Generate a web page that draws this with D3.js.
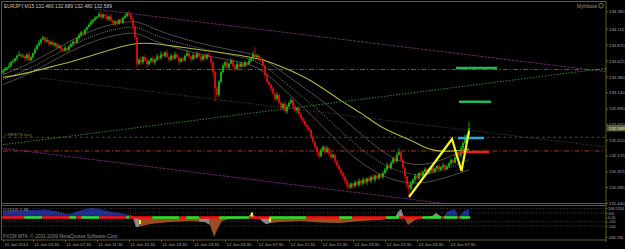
<!DOCTYPE html>
<html>
<head>
    <title>EURJPY,M15</title>
    <meta charset="utf-8">
    <style type="text/css">
        body { margin: 0; background: #000; }
        svg { display: block; }
        text { font-family: "Liberation Sans", Arial, sans-serif; }
        .axis text { fill: #a8a8a8; font-size: 4.3px; }
        .axis.cci text { font-size: 3.8px; }
    </style>
</head>
<body>
<script type="text/javascript" src="https://cdn.jsdelivr.net/npm/d3@7"></script>
<script type="text/javascript">
    /*=========DATA=========*/
    // M15 candles, open = previous close
    var firstOpen = 133.44;
    var closes = [
        133.47, 133.50, 133.52, 133.55, 133.60, 133.62, 133.66, 133.70, 133.72, 133.69,
        133.70, 133.66, 133.72, 133.63, 133.68, 133.74, 133.80, 133.86, 133.90, 133.95,
        133.98, 133.92, 133.94, 133.88, 133.91, 133.86, 133.89, 133.83, 133.85, 133.80,
        133.78, 133.82, 133.79, 133.84, 133.88, 133.92, 133.90, 133.97, 134.02, 134.06,
        134.04, 134.10, 134.14, 134.18, 134.22, 134.25, 134.28, 134.30, 134.34, 134.29,
        134.33, 134.31, 134.26, 134.30, 134.24, 134.20, 134.23, 134.19, 134.25, 134.22,
        134.28, 134.31, 134.35, 134.33, 134.26, 134.15, 133.98, 133.58, 133.64, 133.60,
        133.68, 133.63, 133.57, 133.62, 133.66, 133.60, 133.64, 133.69, 133.66, 133.72,
        133.70, 133.75, 133.68, 133.64, 133.70, 133.66, 133.72, 133.67, 133.61, 133.66,
        133.63, 133.70, 133.74, 133.69, 133.65, 133.71, 133.67, 133.73, 133.69, 133.64,
        133.70, 133.66, 133.72, 133.68, 133.60, 133.45, 133.20, 133.10, 133.30, 133.45,
        133.55, 133.60, 133.52, 133.58, 133.63, 133.55, 133.50, 133.57, 133.53, 133.58,
        133.54, 133.60, 133.57, 133.62, 133.66, 133.72, 133.68, 133.70, 133.65, 133.62,
        133.55, 133.40, 133.30, 133.26, 133.20, 133.12, 133.04, 133.10, 132.98, 132.90,
        132.96, 132.85, 132.92, 132.98, 133.02, 132.92, 132.86, 132.90, 132.80, 132.74,
        132.70, 132.64, 132.60, 132.56, 132.45, 132.38, 132.30, 132.22, 132.16, 132.25,
        132.30, 132.22, 132.28, 132.20, 132.14, 132.18, 132.08, 132.02, 131.96, 131.90,
        131.85, 131.78, 131.72, 131.68, 131.74, 131.70, 131.76, 131.72, 131.78, 131.74,
        131.80, 131.76, 131.82, 131.78, 131.84, 131.80, 131.86, 131.82, 131.88, 131.84,
        131.90, 131.96, 132.02, 131.98, 132.06, 132.12, 132.08, 132.18, 132.22, 132.10,
        131.98, 131.85, 131.72, 131.66, 131.74, 131.80, 131.86, 131.82, 131.90, 131.86,
        131.92, 131.96, 131.90, 131.94, 131.98, 131.92, 131.97, 132.01, 131.95, 131.99,
        132.02, 131.96, 132.00, 132.05, 132.10, 132.06, 132.14, 132.20, 132.17, 132.28,
        132.36, 132.44, 132.48, 132.589
    ];
    // wicks in pips above max(open, close) / below min(open, close)
    var wickUp = [
        2,3,1,4,2,3,1,2,5,2, 3,1,2,4,2,1,3,2,4,2, 3,2,4,1,2,3,2,1,3,2, 2,4,1,3,2,1,4,2,3,2,
        3,2,1,2,4,2,3,1,3,4, 2,1,3,2,4,2,1,3,2,3, 2,3,2,4,3,2,1,4,3,5, 2,3,4,2,1,3,2,4,2,5,
        3,2,4,1,3,2,4,2,3,1, 3,2,5,2,1,3,2,4,2,3, 2,4,1,3,2,2,3,4,3,2, 3,2,4,1,3,2,2,4,2,3,
        2,3,1,4,2,5,11,3,2,1, 2,1,3,2,1,3,2,4,2,3, 2,4,3,2,4,1,3,2,2,3, 2,3,1,2,2,3,1,2,3,4,
        3,2,4,1,3,2,2,3,1,2, 3,2,4,3,2,1,3,2,4,2, 3,2,1,3,2,4,2,3,1,2, 3,2,4,2,3,2,5,4,6,2,
        3,2,1,3,4,2,3,1,2,4, 2,3,1,4,2,3,2,1,3,2, 4,2,3,2,3,1,4,2,3,4, 3,5,2,10
    ];
    var wickDn = [
        3,1,2,2,3,1,2,4,1,3, 2,4,3,2,1,3,2,1,2,3, 1,3,2,4,2,1,3,2,2,4, 3,2,4,2,1,3,2,1,2,3,
        4,2,3,1,2,3,2,2,1,3, 2,4,2,3,1,3,4,2,1,2, 3,1,2,3,2,4,3,6,2,4, 3,2,5,2,3,1,4,2,3,2,
        2,3,1,4,2,3,2,1,5,2, 3,2,1,3,4,2,3,1,2,4, 2,3,2,1,4,5,20,4,3,2, 2,4,3,2,1,3,4,2,3,1,
        3,2,4,1,2,3,2,1,3,2, 3,4,2,3,5,2,4,3,2,4, 3,2,4,1,2,3,2,4,3,2, 3,2,4,3,2,4,3,5,4,2,
        2,3,1,4,3,2,4,3,2,3, 4,5,6,3,2,4,3,2,3,4, 2,3,4,2,3,1,4,2,3,2, 3,2,4,1,3,2,3,2,1,3,
        3,4,6,11,3,2,4,3,2,3, 2,1,3,2,4,2,1,3,2,2, 2,3,1,2,3,2,1,3,2,4, 2,1,3,0
    ];

    // time axis
    var timeIdx = [0, 15, 31, 47, 63, 79, 95, 111, 127, 143, 159, 175, 191, 207, 223];
    var timeLabels = ['10 Jan 2010', '11 Jan 03:30', '11 Jan 07:30', '11 Jan 11:30', '11 Jan 15:30',
        '11 Jan 19:30', '11 Jan 23:30', '12 Jan 03:30', '12 Jan 07:30', '12 Jan 11:30',
        '12 Jan 15:30', '12 Jan 19:30', '12 Jan 23:30', '13 Jan 03:30', '13 Jan 07:30'];
    var priceTicks = [134.382, 134.115, 133.870, 133.625, 133.380, 133.140, 132.890,
        132.650, 132.410, 132.170, 131.925, 131.685, 131.440];
    var lastPrice = 132.589;

    // moving average and bands: [bar, price]
    var maYellow = [[0,133.37],[9,133.41],[20,133.50],[35,133.61],[49,133.75],[59,133.84],[67,133.90],
        [77,133.89],[89,133.83],[104,133.77],[130,133.66],[140,133.52],[154,133.34],[170,132.98],
        [179,132.83],[190,132.57],[204,132.41],[210,132.30],[216,132.24],[222,132.23],[233,132.26]];
    var bandUpper = [[0,133.412],[15,133.597],[32,133.905],[48,134.151],[63,134.228],[68,134.228],
        [78,134.074],[93,133.935],[103,133.858],[118,133.766],[129,133.704],[143,133.366],[158,133.058],
        [173,132.657],[188,132.257],[198,132.072],[208,132.010],[218,132.072],[233,132.288]];
    var bandMid = [[0,133.335],[15,133.520],[32,133.828],[48,134.059],[63,134.151],[68,134.136],
        [78,133.982],[93,133.858],[103,133.781],[118,133.689],[129,133.612],[143,133.227],[158,132.873],
        [173,132.411],[188,132.057],[198,131.918],[208,131.856],[218,131.918],[233,132.103]];
    var bandLower = [[0,133.258],[15,133.443],[32,133.751],[48,133.966],[63,134.059],[68,134.043],
        [78,133.889],[93,133.766],[103,133.689],[118,133.612],[129,133.520],[143,133.104],[158,132.688],
        [173,132.180],[188,131.872],[198,131.764],[208,131.733],[218,131.795],[233,131.949]];

    // drawn objects
    var channelTop = [[46,134.415],[301.5,133.456]];
    var channelBottom = [[-1.5,132.285],[301.5,131.122]];
    var greenTrend = [[-1.5,132.331],[301.5,133.508]];
    var grayTrend = [[18.5,133.359],[301.5,132.300]];
    var dashLevels = [133.490, 132.239];
    var buyLevel = 132.449;
    var buyLabel = '#-MEETS buy';
    var greenTargets = [[226.5,247,133.512],[228,244,132.995]];
    var blueTargets = [[227.5,240.5,132.438]];
    var redTargets = [[228,243,132.223]];
    var zigzag = [[203,131.533],[224.5,132.423],[229.25,131.932],[233,132.546]];

    // lower window indicator: [bar, value]
    var cci = [[0,142],[6,154],[13.5,165],[21,175],[26,143],[31,88],[33.5,77],[36,121],[41,187],
        [44.5,208],[48.5,187],[53.5,132],[58.5,99],[63.5,55],[65,0],[66.5,-240],[68.5,-220],[73.5,-153],
        [83.5,-106],[93.5,-82],[98.5,-94],[101,-106],[103.5,-176],[105.5,-660],[107.5,-285],[109.5,-82],
        [113.5,-35],[121,-12],[122.5,0],[124,99],[126,20],[127.5,0],[129.5,-80],[131.5,-153],[133.5,-129],
        [138.5,-106],[148.5,-82],[158.5,-118],[168.5,-129],[178.5,-82],[188.5,-59],[196,-12],[197.5,120],
        [199,187],[200.5,0],[202.5,-176],[206,-59],[211,-12],[214.5,30],[216.5,99],[218.5,40],[220,0],
        [222,120],[224,165],[226,187],[227.5,33],[229,60],[230.5,150],[233,187]];
    var cciGray = [[63.5,68],[98,103],[121,127],[129,134],[196,200.5],[213,219]];
    // zero strip segments: [from, to, 1 = green / 0 = red]
    var stripSegs = [[0,11,0],[11,20,1],[20,33.5,0],[33.5,37,1],[37,39.5,0],[39.5,48.5,1],[48.5,62,0],
        [62,63.5,1],[63.5,75,0],[75,88.5,1],[88.5,92,0],[92,98.5,1],[98.5,108.5,0],[108.5,123.5,1],
        [123.5,133.5,0],[133.5,152,1],[152,168.5,0],[168.5,175,1],[175,192,0],[192,198.5,1],[198.5,210,0],
        [210,219.5,1],[219.5,221,0],[221,227.5,1],[227.5,229,0],[229,234,1]];
    var cciMarks = [[68.5,-106],[124.5,66],[133.5,-59]];
    var cciLevels = [200, 100, -100, -200];
    var cciTicks = [208.5294, 100, 0, -100, -200, -666.736];
    var cciTickLabels = ['208.5294', '100', '0.00', '-100', '-200', '-666.736'];

    /*=====SIZE SVG======*/
    var svgWidth = 625;
    var svgHeight = 249;
    var left = 3, right = 606;
    var mainTop = 3, mainBottom = 203.5;
    var subTop = 205.5, subBottom = 240;
    var frameColor = '#6a5a20';

    // scales
    var x = d3.scaleLinear().domain([0, 301.5]).range([left, right]);
    var y = d3.scaleLinear().domain([131.433, 134.51]).range([mainBottom, mainTop]);
    var yc = d3.scaleLinear().domain([-666.736, -200, 0, 208.529]).range([237, 226, 217.5, 208]);

    var bars = closes.map(function (c, i) {
        var o = i === 0 ? firstOpen : closes[i - 1];
        return { i: i, o: o, c: c, h: Math.max(o, c) + wickUp[i] / 100, l: Math.min(o, c) - wickDn[i] / 100 };
    });

    var svg = d3.select('body').append('svg').attr('width', svgWidth).attr('height', svgHeight);
    svg.append('rect').attr('width', svgWidth).attr('height', svgHeight).attr('fill', '#000');

    var defs = svg.append('defs');
    defs.append('clipPath').attr('id', 'clipMain').append('rect')
        .attr('x', 2).attr('y', 2).attr('width', right - 2).attr('height', mainBottom - 2);
    defs.append('clipPath').attr('id', 'clipPos').append('rect')
        .attr('x', 2).attr('y', subTop).attr('width', right - 2).attr('height', yc(0) - subTop);
    defs.append('clipPath').attr('id', 'clipNeg').append('rect')
        .attr('x', 2).attr('y', yc(0)).attr('width', right - 2).attr('height', subBottom - yc(0));
    defs.append('clipPath').attr('id', 'clipGray').selectAll('rect').data(cciGray).enter().append('rect')
        .attr('x', function (d) { return x(d[0]); }).attr('y', subTop)
        .attr('width', function (d) { return x(d[1]) - x(d[0]); }).attr('height', subBottom - subTop);

    /*=========MAIN WINDOW============*/
    var main = svg.append('g').attr('clip-path', 'url(#clipMain)');
    var line = d3.line().x(function (d) { return x(d[0]); }).y(function (d) { return y(d[1]); });
    var smooth = d3.line().curve(d3.curveBasis).x(function (d) { return x(d[0]); }).y(function (d) { return y(d[1]); });

    // horizontal levels
    main.selectAll('.dashLevel').data(dashLevels).enter().append('line').attr('class', 'dashLevel')
        .attr('x1', left).attr('x2', right)
        .attr('y1', function (d) { return y(d); }).attr('y2', function (d) { return y(d); })
        .attr('stroke', '#b4441c').attr('stroke-width', 0.9).attr('stroke-dasharray', '5,2,1.2,2');
    main.append('line').attr('x1', left).attr('x2', right).attr('y1', y(buyLevel)).attr('y2', y(buyLevel))
        .attr('stroke', '#7a4a1c').attr('stroke-width', 0.9).attr('stroke-dasharray', '2.5,3');

    // trend lines
    main.append('path').attr('d', line(channelTop)).attr('fill', 'none')
        .attr('stroke', '#6c2c6c').attr('stroke-width', 0.9).attr('stroke-dasharray', '3,1');
    main.append('path').attr('d', line(channelBottom)).attr('fill', 'none')
        .attr('stroke', '#7c207c').attr('stroke-width', 0.9).attr('stroke-dasharray', '3,1');
    main.append('path').attr('d', line(greenTrend)).attr('fill', 'none')
        .attr('stroke', '#2a9a2a').attr('stroke-width', 0.9).attr('stroke-dasharray', '1.5,1.5');
    main.append('path').attr('d', line(grayTrend)).attr('fill', 'none')
        .attr('stroke', '#4a4a4a').attr('stroke-width', 0.9).attr('stroke-dasharray', '1,1.5');

    // bands + MA
    [bandUpper, bandLower].forEach(function (b) {
        main.append('path').attr('d', smooth(b)).attr('fill', 'none')
            .attr('stroke', '#6e6e6e').attr('stroke-width', 0.7);
    });
    main.append('path').attr('d', smooth(bandMid)).attr('fill', 'none')
        .attr('stroke', '#b0b0b0').attr('stroke-width', 0.7).attr('stroke-dasharray', '1,1.2');
    main.append('path').attr('d', smooth(maYellow)).attr('fill', 'none')
        .attr('stroke', '#b4b43c').attr('stroke-width', 1.1);

    // candles
    var candle = main.selectAll('.candle').data(bars).enter().append('g').attr('class', 'candle')
        .attr('fill', function (d) { return d.c >= d.o ? '#10d010' : '#ee1010'; })
        .attr('stroke', function (d) { return d.c >= d.o ? '#10d010' : '#ee1010'; });
    candle.append('line')
        .attr('x1', function (d) { return x(d.i); }).attr('x2', function (d) { return x(d.i); })
        .attr('y1', function (d) { return y(d.h); }).attr('y2', function (d) { return y(d.l); })
        .attr('stroke-width', 0.8);
    candle.append('rect').attr('stroke', 'none')
        .attr('x', function (d) { return x(d.i) - 0.75; }).attr('width', 1.5)
        .attr('y', function (d) { return y(Math.max(d.o, d.c)); })
        .attr('height', function (d) { return Math.max(0.8, Math.abs(y(d.o) - y(d.c))); });

    // targets
    function targets(data, color) {
        main.selectAll(null).data(data).enter().append('line')
            .attr('x1', function (d) { return x(d[0]); }).attr('x2', function (d) { return x(d[1]); })
            .attr('y1', function (d) { return y(d[2]); }).attr('y2', function (d) { return y(d[2]); })
            .attr('stroke', color).attr('stroke-width', 2.4);
    }
    targets(greenTargets, '#22b85a');
    targets(blueTargets, '#20a8e0');
    targets(redTargets, '#e82020');

    // zigzag
    main.append('path').attr('d', line(zigzag)).attr('fill', 'none')
        .attr('stroke', '#f4f41c').attr('stroke-width', 2.2).attr('stroke-linejoin', 'miter');

    main.append('text').attr('x', 4).attr('y', y(buyLevel) - 1.2).attr('fill', '#7c7c2c')
        .attr('font-size', 4.4).text(buyLabel);

    /*=========SUB WINDOW============*/
    var sub = svg.append('g');
    var area = d3.area().x(function (d) { return x(d[0]); }).y0(yc(0)).y1(function (d) { return yc(d[1]); });
    sub.append('path').attr('d', area(cci)).attr('fill', '#1c2a90').attr('clip-path', 'url(#clipPos)');
    sub.append('path').attr('d', area(cci)).attr('fill', '#9a4c22').attr('clip-path', 'url(#clipNeg)');
    sub.append('path').attr('d', area(cci)).attr('fill', '#8a8a8a').attr('clip-path', 'url(#clipGray)');

    sub.selectAll('.lvl').data(cciLevels).enter().append('line').attr('class', 'lvl')
        .attr('x1', left).attr('x2', right)
        .attr('y1', function (d) { return yc(d); }).attr('y2', function (d) { return yc(d); })
        .attr('stroke', '#6a6a6a').attr('stroke-width', 0.6).attr('stroke-dasharray', '1,1.4');

    sub.selectAll('.strip').data(stripSegs).enter().append('rect').attr('class', 'strip')
        .attr('x', function (d) { return x(d[0]) - 0.8; })
        .attr('width', function (d) { return x(d[1]) - x(d[0]); })
        .attr('y', yc(0) - 1.3).attr('height', 2.6)
        .attr('fill', function (d) { return d[2] ? '#28e028' : '#f01010'; });

    sub.selectAll('.mark').data(cciMarks).enter().append('rect').attr('class', 'mark')
        .attr('x', function (d) { return x(d[0]) - 1; }).attr('width', 2)
        .attr('y', function (d) { return yc(d[1]) - 2; }).attr('height', 4)
        .attr('fill', '#f0f020');

    /*=========FRAME + AXES============*/
    var frame = svg.append('g').attr('stroke', frameColor).attr('stroke-width', 1);
    frame.append('line').attr('x1', 1.5).attr('x2', right).attr('y1', 1.5).attr('y2', 1.5);
    frame.append('line').attr('x1', 1.5).attr('x2', 1.5).attr('y1', 1.5).attr('y2', subBottom);
    frame.append('line').attr('x1', right).attr('x2', right).attr('y1', 1.5).attr('y2', subBottom + 2);
    frame.append('line').attr('x1', 1.5).attr('x2', right).attr('y1', mainBottom).attr('y2', mainBottom);
    frame.append('line').attr('x1', 1.5).attr('x2', right).attr('y1', subTop).attr('y2', subTop);
    frame.append('line').attr('x1', 1.5).attr('x2', right).attr('y1', subBottom).attr('y2', subBottom);

    var yAxis = d3.axisRight(y).tickValues(priceTicks).tickSize(2).tickPadding(1)
        .tickFormat(d3.format('.3f'));
    var gy = svg.append('g').attr('class', 'axis').attr('transform', 'translate(' + right + ',0)').call(yAxis);
    var ycAxis = d3.axisRight(yc).tickValues(cciTicks).tickSize(1.5).tickPadding(0.5)
        .tickFormat(function (d, i) { return cciTickLabels[i]; });
    var gyc = svg.append('g').attr('class', 'axis cci').attr('transform', 'translate(' + right + ',0)').call(ycAxis);
    [gy, gyc].forEach(function (g) {
        g.select('.domain').remove();
        g.selectAll('line').attr('stroke', frameColor);
    });

    // current price box
    svg.append('rect').attr('x', right + 1).attr('y', y(lastPrice) - 3.2).attr('width', svgWidth - right)
        .attr('height', 6.4).attr('fill', '#5e5e3c');
    svg.append('text').attr('x', right + 3).attr('y', y(lastPrice)).attr('dy', '0.35em')
        .attr('font-size', 4.3).attr('fill', '#e6e6c6').text(d3.format('.3f')(lastPrice));

    var xAxis = d3.axisBottom(x).tickValues(timeIdx).tickSize(2).tickPadding(1)
        .tickFormat(function (d, i) { return timeLabels[i]; });
    var gx = svg.append('g').attr('class', 'axis').attr('transform', 'translate(0,' + subBottom + ')').call(xAxis);
    gx.select('.domain').remove();
    gx.selectAll('line').attr('stroke', frameColor);
    gx.selectAll('text').attr('text-anchor', 'start').attr('x', 1);

    // texts
    svg.append('text').attr('x', 4).attr('y', 8).attr('font-size', 5).attr('fill', '#c4c4c4')
        .text('EURJPY,M15  132.480 132.689 132.480 132.589');
    svg.append('text').attr('x', 577).attr('y', 7.5).attr('font-size', 4.7).attr('fill', '#9a9a9a')
        .text('Myfxbook');
    svg.append('circle').attr('cx', 601).attr('cy', 5.8).attr('r', 2.3).attr('fill', 'none')
        .attr('stroke', '#7aa05a').attr('stroke-width', 0.8);
    svg.append('text').attr('x', 3).attr('y', 211).attr('font-size', 4.4).attr('fill', '#a0a0a0')
        .text('CCI(14) 1.39');
    svg.append('text').attr('x', 3).attr('y', 237.5).attr('font-size', 4.8).attr('fill', '#8c8c8c')
        .text('FXCM MT4, \u00a9 2001-2009 MetaQuotes Software Corp.');
</script>
</body>
</html>
